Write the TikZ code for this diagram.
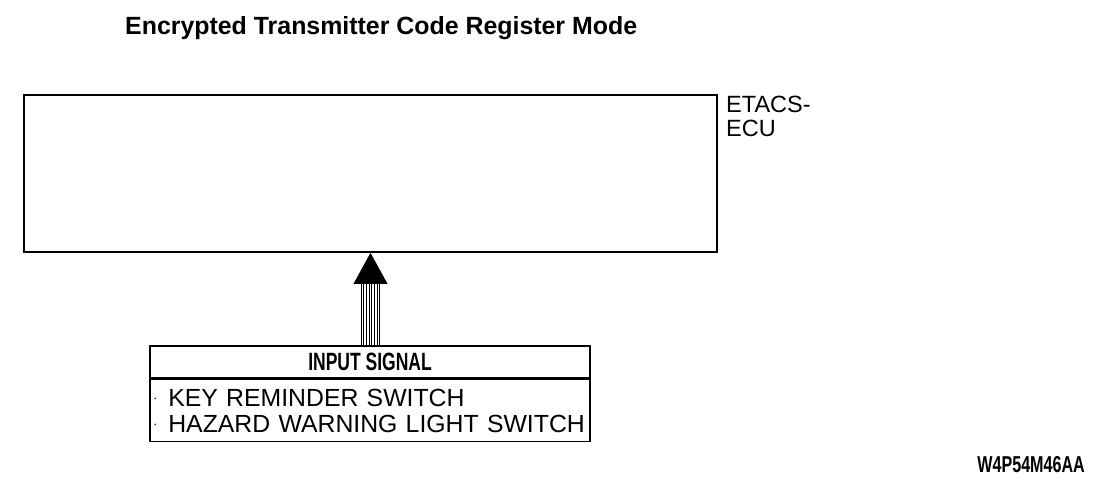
\documentclass[tikz,border=0pt]{standalone}
\usepackage{fontspec}
\setmainfont{Liberation Sans}
\newfontfamily\narrowfont[FakeStretch=0.7]{Liberation Sans}
\usetikzlibrary{positioning,calc}
\tikzset{
  frame/.style={draw, line width=1.6pt, inner sep=0pt},
  labeltext/.style={font=\fontsize{23.5}{23.5}\selectfont, inner sep=0pt, align=left},
  busline/.style={line width=0.9pt}
}
\newcommand{\itemdot}{\raisebox{4pt}{\fontsize{13}{13}\selectfont\textperiodcentered}\hspace{11pt}}
\begin{document}
\begin{tikzpicture}[x=1pt, y=-1pt]
\useasboundingbox (0,0) rectangle (1120,482);
% Title
\node[font=\bfseries\fontsize{24.9}{26}\selectfont, anchor=west, inner sep=0pt] (title) at (125,28) {Encrypted Transmitter Code Register Mode};

% ECU block
\node[frame, minimum width=693pt, minimum height=157pt] (ecu) at (370.5,173.5) {};
\node[labeltext, anchor=north west] (ecuname) at (726,96) {ETACS-\\ECU};

% Input signal box
\node[frame, minimum width=440pt, minimum height=32pt, font=\narrowfont\bfseries\fontsize{25}{25}\selectfont] (sigtitle) at (370,362) {INPUT SIGNAL};
\node[frame, below=0pt of sigtitle, minimum width=440pt, minimum height=62pt, text width=434pt, align=left, font=\fontsize{24.8}{26}\selectfont] (siglist) {\itemdot KEY REMINDER SWITCH\\\itemdot HAZARD WARNING LIGHT SWITCH};

% Signal arrow
\coordinate (headbase) at ($(ecu.south)+(0,31)$);
\foreach \i in {0,...,7}
  \draw[busline] ($(sigtitle.north -| headbase)+(-9.5+\i*2.7,0)$) -- ($(headbase)+(-9.5+\i*2.7,0)$);
\fill (ecu.south) -- ($(headbase)+(-17,0)$) -- ($(headbase)+(17,0)$) -- cycle;

% Figure code
\node[font=\narrowfont\bfseries\fontsize{23}{23}\selectfont, anchor=east, inner sep=0pt] (figcode) at (1085,465) {W4P54M46AA};
\end{tikzpicture}
\end{document}
